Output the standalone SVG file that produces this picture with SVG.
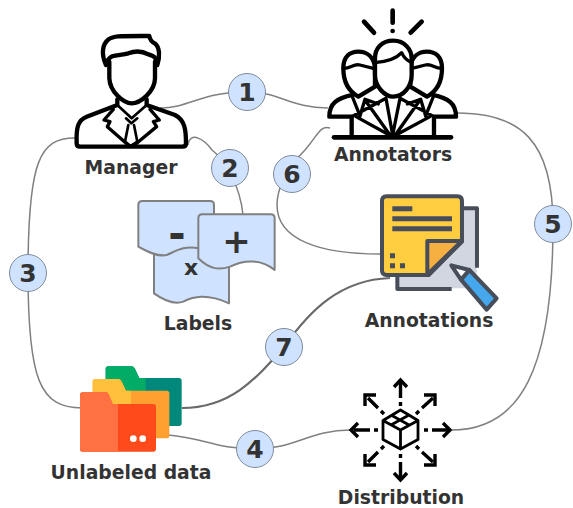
<svg xmlns="http://www.w3.org/2000/svg" width="573" height="508" viewBox="0 0 573 508">
<style>
.c{fill:none;stroke:#808080;stroke-width:1.5}
.b{fill:#cfe2ff;stroke:#7f8c99;stroke-width:1}
.n{font:bold 25px "DejaVu Sans",sans-serif;fill:#333;text-anchor:middle}
.t{font:bold 18.800px "DejaVu Sans",sans-serif;fill:#333;text-anchor:middle}
.k{fill:none;stroke:#000;stroke-width:13;stroke-linecap:round;stroke-linejoin:round}
.w{fill:#fff}
.d{fill:none;stroke:#000;stroke-width:3.400}
.l{fill:#cfe2ff;stroke:#808080;stroke-width:6;stroke-linejoin:round}
.a{stroke:#484d5a;stroke-width:12;stroke-linejoin:round;stroke-linecap:butt}
</style>
<rect width="573" height="508" fill="#fff"/>
<g id="connectors">
<path class="c" d="M160 108C190 108 200 92 247 92C280 92 290 108 328 108"/>
<path class="c" d="M188 145C190 130 205 140 212 150C225 160 240 185 243 215"/>
<path class="c" d="M75 138C40 138 28 160 28 273C28 380 40 408 82 408"/>
<path class="c" d="M168 435C205 438 215 449 255 449C295 449 310 430 350 430"/>
<path class="c" d="M457 113C520 113 553 140 553 225C553 370 520 430 452 430"/>
<path class="c" d="M330 128C320 125 318 135 305 150C285 170 277 190 277 205C277 240 320 254 380 254"/>
<path class="c" style="stroke:#6a6a6a;stroke-width:2.200" d="M182 408C230 408 255 380 284 347C310 310 340 280 390 278"/>
</g>
<g id="manager">
<g transform="translate(60 20) scale(.3333)">
<path class="k" d="M138 135C122 100 128 72 146 58C160 47 180 48 268 48C270 60 276 66 284 70C300 82 300 110 292 135"/>
<path class="k" d="M142 125C150 100 180 108 205 100C225 92 245 92 265 103C285 108 290 115 290 130"/>
<path class="k" d="M148 125L148 175C150 215 190 250 215 250C240 250 285 215 285 175L285 125"/>
<path class="k" d="M172 238L172 255L80 290C55 300 48 320 50 370Q50 380 60 380L368 380Q378 380 378 370C378 330 375 300 345 285L260 255L260 238"/>
<path class="k" style="stroke-width:10" d="M160 268L132 300L150 305L142 320L208 378M270 268L298 300L280 305L290 320L220 378"/>
<path class="k" style="stroke-width:8" d="M172 255L215 295L260 255M198 295L214 310L232 295M205 315L195 365L212 378L232 365L222 315"/>
</g>
<text class="t" x="131" y="174">Manager</text>
</g>
<g id="annotators">
<g transform="translate(310 0) scale(.3333)">
<path class="k" style="stroke-width:14" d="M162 65L192 98M248 32L248 68M335 65L302 98"/>
<circle cx="248" cy="93" r="7"/>
<path class="k" d="M128 285C80 295 58 310 58 350L125 350L125 405M368 285C416 295 438 310 438 350L372 350L372 405"/>
<path class="k w" d="M145 290C108 270 100 235 100 205C100 170 120 155 145 155C170 155 190 170 195 200V260Z"/>
<path class="k" style="stroke-width:10" d="M100 205C125 205 130 190 150 195L190 205"/>
<path class="k w" d="M351 290C388 270 396 235 396 205C396 170 376 155 351 155C326 155 306 170 301 200V260Z"/>
<path class="k" style="stroke-width:10" d="M396 205C371 205 366 190 346 195L306 205"/>
<path class="k w" d="M195 225V175C195 145 215 122 250 122C285 122 305 150 305 175V225C305 260 280 290 250 290C225 290 195 260 195 225Z"/>
<path class="k" style="stroke-width:10" d="M195 188C230 185 260 175 275 158C280 170 285 178 300 185"/>
<path class="k" style="stroke-width:10" d="M125 350L228 295M372 350L270 295M228 295L248 405L270 295M138 350L238 405M360 350L258 405M165 300L240 405M330 300L256 405M125 285L150 348L165 298L205 312M372 285L347 348L332 298L292 312"/>
<path class="k" style="stroke-width:14" d="M72 412L423 412"/>
</g>
<text class="t" x="393" y="161">Annotators</text>
</g>
<g id="labels">
<g transform="translate(130 190) scale(.3333)">
<path class="l" d="M72 150L72 310C100 330 130 345 160 335C190 320 230 310 297 340L297 150Z"/>
<path class="l" d="M25 45Q25 33 37 33L240 33Q252 33 252 45L252 80L207 175C160 165 135 185 110 195C85 200 60 190 25 170Z"/>
<path class="l" d="M205 85Q205 73 217 73L422 73Q434 73 434 85L434 240C390 205 340 210 300 230C270 240 240 240 205 205Z"/>
</g>
<text class="n" x="177" y="248" style="font-size:42px">-</text>
<text class="n" x="191" y="275" style="font-size:22px">x</text>
<text class="n" x="236.500" y="253" style="font-size:34px">+</text>
<text class="t" x="198" y="330">Labels</text>
</g>
<g id="annotations">
<g transform="translate(370 185) scale(.3333)">
<path fill="#d1d6e0" d="M80 70H320V310H80Z"/>
<path fill="none" class="a" d="M282 70H321V248M82 270V312H245"/>
<path fill="#ffcd40" class="a" d="M50 34H262Q276 34 276 48V170L176 270H50Q36 270 36 256V48Q36 34 50 34Z"/>
<path fill="#f5b041" class="a" d="M172 268V168H276Z"/>
<path fill="#484d5a" d="M67 64H127V79H67ZM67 94H246V109H67ZM67 124H246V139H67ZM60 205H75V220H60ZM60 235H75V250H60ZM90 235H105V250H90Z"/>
<path fill="#45a8ec" class="a" d="M273 284L298 255L380 340L350 374Z"/>
<path fill="#fff" class="a" d="M273 284L298 255L244 241Z"/>
</g>
<text class="t" x="429" y="327">Annotations</text>
</g>
<g id="unlabeled-data">
<g transform="translate(70 355) scale(.3333)">
<path fill="#00897b" d="M107 42Q107 34 115 34H185Q190 34 194 40L208 69H327Q335 69 335 77V205Q335 213 327 213H115Q107 213 107 205Z"/>
<path fill="#00ac66" d="M107 42Q107 34 115 34H185Q190 34 194 40L208 69H227V213H115Q107 213 107 205Z"/>
<path fill="#ffa030" d="M68 80Q68 72 76 72H145Q150 72 154 78L168 107H290Q298 107 298 115V242Q298 250 290 250H76Q68 250 68 242Z"/>
<path fill="#ffc03c" d="M68 80Q68 72 76 72H145Q150 72 154 78L168 107H183V250H76Q68 250 68 242Z"/>
<path fill="#ff4a1c" d="M30 120Q30 112 38 112H108Q113 112 116 118L128 147H250Q258 147 258 155V282Q258 290 250 290H38Q30 290 30 282Z"/>
<path fill="#ff7043" d="M30 120Q30 112 38 112H108Q113 112 116 118L128 147H144V290H38Q30 290 30 282Z"/>
<circle cx="190" cy="251" r="10" fill="#fff"/><circle cx="218" cy="251" r="10" fill="#fff"/>
</g>
<text class="t" x="131" y="479">Unlabeled data</text>
</g>
<g id="distribution">
<g transform="translate(340 370)">
<path class="d" style="stroke-width:2.800;stroke-linejoin:round" d="M60.500 40L78 50.500V69.500L60.500 79L43 69.500V50.500ZM43 50.500L60.500 60L78 50.500M60.500 60V79M51 45L69 55M69 45L51 55"/>
<path class="d" d="M60.500 12V28M60.500 32V36M60.500 84V88M60.500 92V108M14 60H30M34 60H38M84 60H88M92 60H108M28 28L38 38M41 41L44 44M93 28L82 38M79 41L76 44M28 92L38 82M41 79L44 76M93 92L82 82M79 79L76 76"/>
<path class="d" d="M54 17L60.500 10L67 17M54 103L60.500 110L67 103M18 53L11 60L18 67M103 53L110 60L103 67M25 36V25H36M95 36V25H84M25 84V95H36M95 84V95H84"/>
</g>
<text class="t" x="401" y="503.500">Distribution</text>
</g>
<g id="badges">
<circle class="b" cx="247" cy="92" r="18.500"/><text class="n" x="247" y="101">1</text>
<circle class="b" cx="230" cy="168" r="18.500"/><text class="n" x="230" y="177">2</text>
<circle class="b" cx="28" cy="273" r="18.500"/><text class="n" x="28" y="282">3</text>
<circle class="b" cx="255" cy="449" r="18.500"/><text class="n" x="255" y="458">4</text>
<circle class="b" cx="553" cy="224" r="18.500"/><text class="n" x="553" y="233">5</text>
<circle class="b" cx="292" cy="174" r="18.500"/><text class="n" x="292" y="183">6</text>
<circle class="b" cx="284" cy="347" r="18.500"/><text class="n" x="284" y="356">7</text>
</g>
</svg>
